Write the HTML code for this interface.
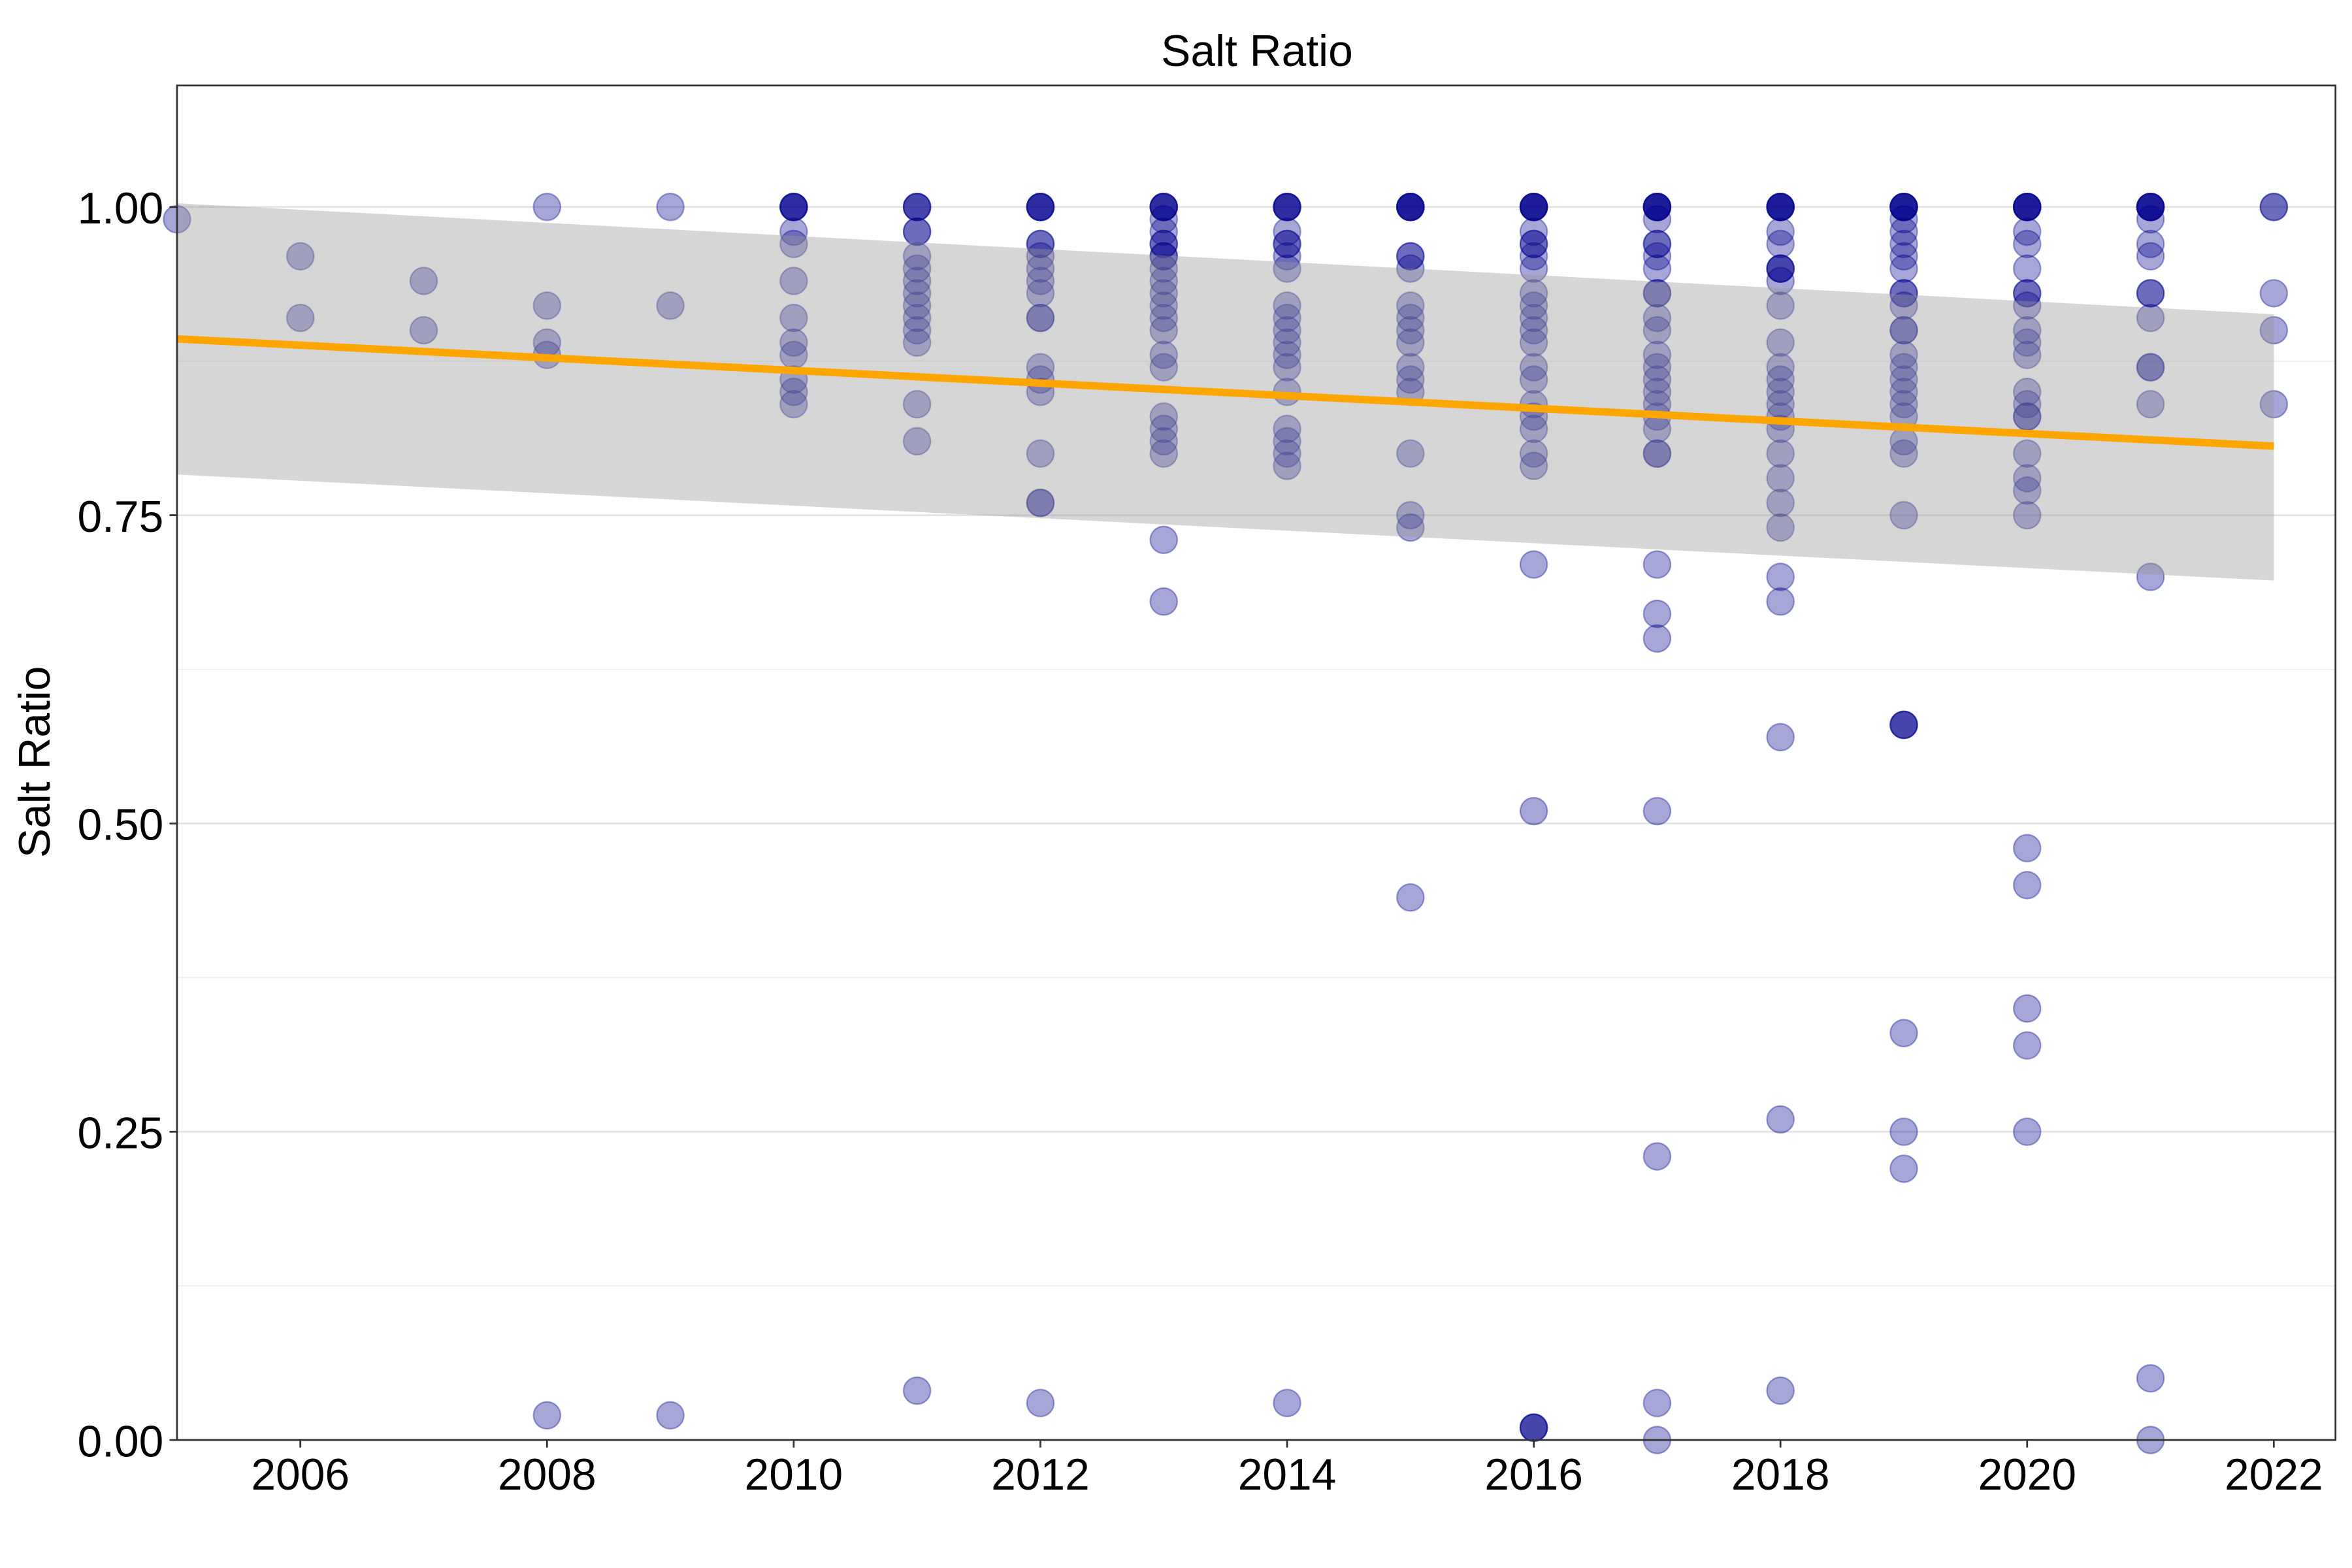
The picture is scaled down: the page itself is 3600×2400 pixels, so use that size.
<!DOCTYPE html>
<html><head><meta charset="utf-8"><style>
html,body{margin:0;padding:0;background:#fff;}
svg{display:block;}
text{font-family:"Liberation Sans",Arial,sans-serif;fill:#000;}
</style></head><body>
<svg id="chart" width="3600" height="2400" viewBox="0 0 1568 1045.33" xmlns="http://www.w3.org/2000/svg">
<rect x="0" y="0" width="1568" height="1045.33" fill="#fff"/>
<text x="838" y="44" font-size="29.5" text-anchor="middle">Salt Ratio</text>
<text transform="translate(33,508) rotate(-90)" font-size="29.5" text-anchor="middle">Salt Ratio</text>
<g id="grid"></g>
<g id="points"></g>
<g id="smooth"></g>
<rect x="118" y="57" width="1439" height="903" fill="none" stroke="#333" stroke-width="1.2"/>
<g id="axes"></g>
</svg>
<script>
const years=[2005,2006,2007,2008,2009,2010,2011,2012,2013,2014,2015,2016,2017,2018,2019,2020,2021,2022];
const values=[
[0.99],
[0.96,0.91],
[0.94,0.90],
[1.00,0.92,0.89,0.88,0.02],
[1.00,0.92,0.02],
[1,1,1,1,0.98,0.97,0.94,0.91,0.89,0.88,0.86,0.85,0.84],
[1,1,1,0.98,0.98,0.96,0.95,0.94,0.93,0.92,0.91,0.90,0.89,0.84,0.81,0.04],
[1,1,1,1,0.97,0.97,0.96,0.95,0.94,0.93,0.91,0.91,0.87,0.86,0.85,0.80,0.76,0.76,0.03],
[1,1,1,1,0.99,0.98,0.97,0.97,0.96,0.96,0.95,0.94,0.93,0.92,0.91,0.90,0.88,0.87,0.83,0.82,0.81,0.80,0.73,0.68],
[1,1,1,1,0.98,0.97,0.97,0.96,0.95,0.92,0.91,0.90,0.89,0.88,0.87,0.85,0.82,0.81,0.80,0.79,0.03],
[1,1,1,1,1,0.96,0.96,0.95,0.92,0.91,0.90,0.89,0.87,0.86,0.85,0.80,0.75,0.74,0.44],
[1,1,1,1,1,0.98,0.97,0.97,0.96,0.95,0.93,0.92,0.91,0.90,0.89,0.87,0.86,0.84,0.83,0.82,0.80,0.79,0.71,0.51,0.01,0.01,0.01],
[1,1,1,1,1,0.99,0.97,0.97,0.96,0.95,0.93,0.93,0.91,0.90,0.88,0.87,0.86,0.85,0.84,0.83,0.82,0.80,0.80,0.71,0.67,0.65,0.51,0.23,0.03,0.00],
[1,1,1,1,1,0.98,0.97,0.95,0.95,0.95,0.94,0.92,0.89,0.87,0.86,0.85,0.84,0.83,0.82,0.80,0.78,0.76,0.74,0.70,0.68,0.57,0.26,0.04],
[1,1,1,1,1,0.99,0.98,0.97,0.96,0.95,0.93,0.93,0.92,0.90,0.90,0.88,0.87,0.86,0.85,0.84,0.83,0.81,0.80,0.75,0.58,0.58,0.58,0.33,0.25,0.22],
[1,1,1,1,1,0.98,0.97,0.95,0.93,0.93,0.92,0.90,0.89,0.88,0.85,0.84,0.83,0.83,0.80,0.78,0.77,0.75,0.48,0.45,0.35,0.32,0.25],
[1,1,1,1,1,0.99,0.97,0.96,0.93,0.93,0.91,0.87,0.87,0.84,0.70,0.05,0.00],
[1,1,0.93,0.90,0.84]
];
const fitYears=[2005,2022];
const fitLine=[0.893,0.806];
const fitUpper=[1.003,0.913];
const fitLower=[0.783,0.697];
const xTicks=[2006,2008,2010,2012,2014,2016,2018,2020,2022];
const yTicks=[0,0.25,0.5,0.75,1.0];
const yTickLabels=["0.00","0.25","0.50","0.75","1.00"];
const yMinor=[0.125,0.375,0.625,0.875];

const NS="http://www.w3.org/2000/svg";
const X0=118,X1=1557,Y0=960,Y1=57;
const xDom=[2005,2022.5], yDom=[0,1.0985];
function sx(v){return X0+(v-xDom[0])/(xDom[1]-xDom[0])*(X1-X0);}
function sy(v){return Y0-(v-yDom[0])/(yDom[1]-yDom[0])*(Y0-Y1);}
function mk(tag,attrs,parent){const e=document.createElementNS(NS,tag);for(const k in attrs)e.setAttribute(k,attrs[k]);parent.appendChild(e);return e;}

const grid=document.getElementById('grid');
yMinor.forEach(v=>{
  const l=mk('line',{x1:X0,x2:X1,y1:sy(v),y2:sy(v),stroke:'#f0f0f0','stroke-width':0.8},grid);
  
  
});
yTicks.forEach(v=>{
  const l=mk('line',{x1:X0,x2:X1,y1:sy(v),y2:sy(v),stroke:'#e3e3e3','stroke-width':1.2},grid);
  
  
});

const pts=document.getElementById('points');
years.forEach((yr,i)=>{
  values[i].forEach(v=>{
    const c=mk('circle',{cx:sx(yr),cy:sy(v),r:9,fill:'rgba(0,0,139,0.35)',stroke:'rgba(0,0,139,0.35)','stroke-width':1},pts);
    
    
  });
});

const sm=document.getElementById('smooth');
const poly=[sx(fitYears[0])+','+sy(fitUpper[0]),sx(fitYears[1])+','+sy(fitUpper[1]),sx(fitYears[1])+','+sy(fitLower[1]),sx(fitYears[0])+','+sy(fitLower[0])].join(' ');
const rib=mk('polygon',{points:poly,fill:'rgba(153,153,153,0.4)'},sm);


const ln=mk('line',{x1:sx(fitYears[0]),y1:sy(fitLine[0]),x2:sx(fitYears[1]),y2:sy(fitLine[1]),stroke:'#FFA500','stroke-width':5},sm);



const ax=document.getElementById('axes');
xTicks.forEach(v=>{
  const t=mk('line',{x1:sx(v),x2:sx(v),y1:Y0,y2:Y0+5,stroke:'#333','stroke-width':1.2},ax);
  
  
  const tx=mk('text',{x:sx(v),y:Y0+33,'font-size':29.5,'text-anchor':'middle'},ax);
  tx.textContent=String(v);
  
  
});
yTicks.forEach((v,i)=>{
  const t=mk('line',{x1:X0-5,x2:X0,y1:sy(v),y2:sy(v),stroke:'#333','stroke-width':1.2},ax);
  
  
  const tx=mk('text',{x:X0-9,y:sy(v)+11,'font-size':29.5,'text-anchor':'end'},ax);
  tx.textContent=yTickLabels[i];
  
  
});
</script>
</body></html>
